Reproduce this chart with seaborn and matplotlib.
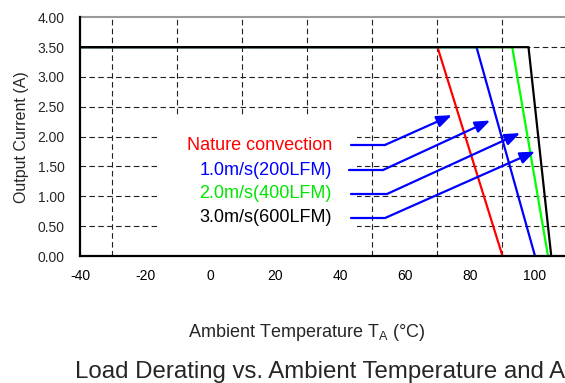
import numpy as np
import pandas as pd
import matplotlib
matplotlib.use("Agg")
import matplotlib.pyplot as plt
from matplotlib.patches import Rectangle
import seaborn as sns

# Derating curves: flat at max current from -40C, then linear drop to zero
series_names = ["Nature convection", "1.0m/s(200LFM)", "2.0m/s(400LFM)", "3.0m/s(600LFM)"]
series_colors = ["#ff0000", "#0000ff", "#00ff00", "#000000"]
text_colors = ["#ff0000", "#0000ff", "#00e600", "#000000"]
start_temp = -40
knee_temps = [70, 82, 93, 98]
zero_temps = [90, 100, 104, 105]
max_current = 3.5

x_ticks = [-40, -20, 0, 20, 40, 60, 80, 100]
x_grid = [-30, -10, 10, 30, 50, 70, 90, 110]
y_ticks = [0.0, 0.5, 1.0, 1.5, 2.0, 2.5, 3.0, 3.5, 4.0]

# label / arrow layout (data coords)
label_x = 37.5
label_y = [1.86, 1.44, 1.04, 0.64]
arrow_start_x = [43.4, 42.8, 43.4, 43.4]
arrow_elbow_x = [53.8, 53.2, 54.5, 54.0]
arrow_tip = [(74.4, 2.36), (86.2, 2.27), (95.4, 2.06), (100.0, 1.75)]

rows = []
for name, k, z in zip(series_names, knee_temps, zero_temps):
    rows.append((name, start_temp, max_current))
    rows.append((name, k, max_current))
    rows.append((name, z, 0.0))
df = pd.DataFrame(rows, columns=["series", "temp", "current"])

sns.set_style("white")
plt.rcParams["font.family"] = ["Liberation Sans", "DejaVu Sans"]
plt.rcParams["mathtext.fontset"] = "custom"
plt.rcParams["mathtext.rm"] = "Liberation Sans"
plt.rcParams["axes.unicode_minus"] = False

fig = plt.figure(figsize=(5.65, 3.83), dpi=100)
ax = fig.add_axes([80 / 565, 127 / 383, 520 / 565, 238.7 / 383])

sns.lineplot(data=df, x="temp", y="current", hue="series", hue_order=series_names,
             palette=series_colors, sort=False, estimator=None, legend=False,
             linewidth=1.6, ax=ax, zorder=3)

ax.set_xlim(-40, 120)
ax.set_ylim(0, 4)
ax.set_xticks(x_ticks)
ax.set_xticks(x_grid, minor=True)
ax.set_yticks(y_ticks)
ax.set_yticklabels([f"{v:.2f}" for v in y_ticks])

ax.grid(False)
for v in x_grid:
    ax.axvline(v, color="#222222", lw=0.8, ls=(0, (5, 3)), zorder=0)
for v in y_ticks[1:-1]:
    ax.axhline(v, color="#222222", lw=0.8, ls=(0, (5, 3)), zorder=0)

# white block behind the label text (hides the grid there)
ax.add_patch(Rectangle((-16.3, 0), 61.5, 2.33, facecolor="white", edgecolor="none", zorder=1))

ax.tick_params(axis="x", which="major", direction="in", length=4, width=1.2,
               labelsize=10, pad=9, colors="black")
ax.tick_params(axis="x", which="minor", length=0)
ax.tick_params(axis="y", length=0, labelsize=10, pad=11)

for side in ["left", "bottom"]:
    ax.spines[side].set_color("black")
    ax.spines[side].set_linewidth(1.6)
    ax.spines[side].set_zorder(5)
ax.spines["top"].set_color("#999999")
ax.spines["top"].set_linewidth(1.5)
ax.spines["right"].set_visible(False)

ax.set_xlabel("")
ax.set_ylabel("Output Current (A)", fontsize=11.5, labelpad=6)

for i, name in enumerate(series_names):
    ax.text(label_x, label_y[i], name, color=text_colors[i], fontsize=13,
            ha="right", va="center", zorder=4)
    y0 = label_y[i]
    ax.plot([arrow_start_x[i], arrow_elbow_x[i]], [y0, y0], color="#0000ff", lw=1.6, zorder=4)
    ax.annotate("", xy=arrow_tip[i], xytext=(arrow_elbow_x[i], y0),
                arrowprops=dict(arrowstyle="-|>,head_length=0.9,head_width=0.35",
                                color="#0000ff", lw=1.6, shrinkA=0, shrinkB=0),
                zorder=4)

fig.text(188 / 565, 1 - 337 / 383, r"Ambient Temperature T$_{\mathrm{A}}$ (°C)",
         fontsize=13, ha="left", va="baseline")
fig.text(75 / 565, 1 - 378 / 383, "Load Derating vs. Ambient Temperature and Airflow",
         fontsize=17.3, ha="left", va="baseline")

fig.savefig("out.png", dpi=100)
